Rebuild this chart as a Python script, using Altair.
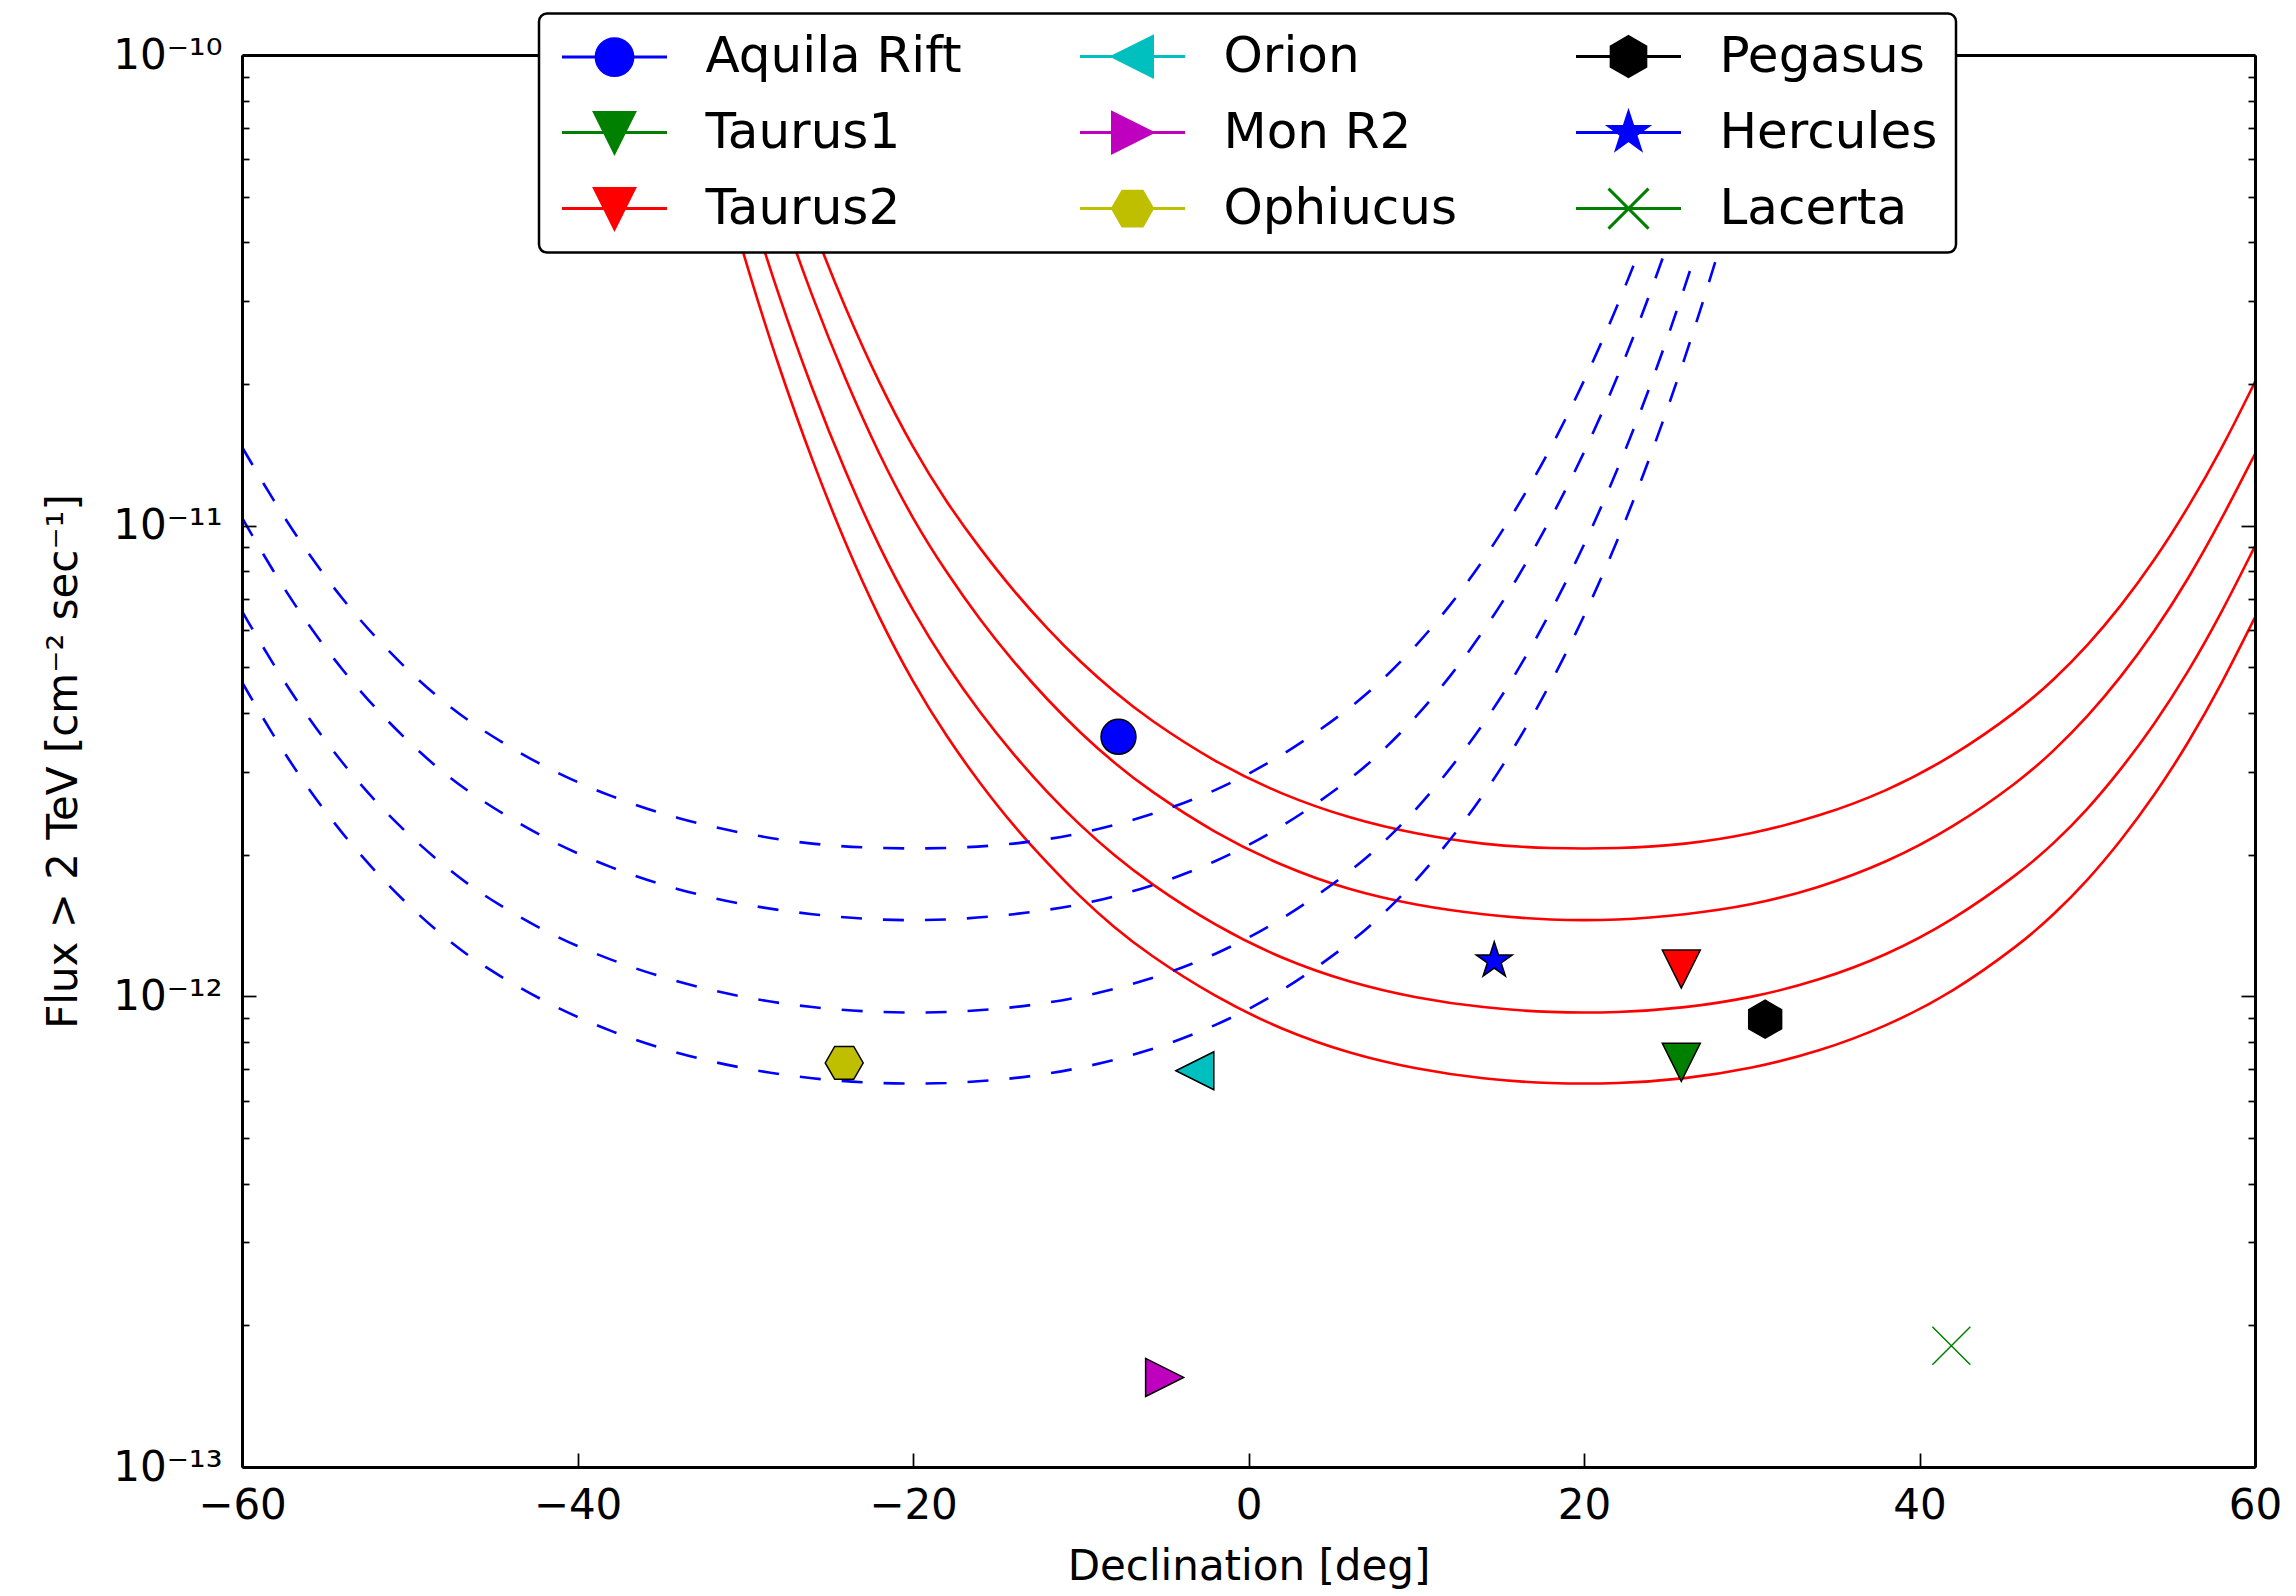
import json
import altair as alt
import pandas as pd

FONT = "DejaVu Sans"

# ---------------- source markers ----------------
src_names = ["Aquila Rift", "Taurus1", "Taurus2", "Orion", "Mon R2",
             "Ophiucus", "Pegasus", "Hercules", "Lacerta"]
src_dec = [-7.75, 25.8, 25.8, -3.2, -5.0, -24.1, 30.8, 14.65, 41.9]
src_flux = [3.56e-12, 7.24e-13, 1.143e-12, 6.95e-13, 1.55e-13,
            7.22e-13, 8.94e-13, 1.19e-12, 1.81e-13]

# legend entries (filled column by column, 3 per column)
legend_order = ["Aquila Rift", "Taurus1", "Taurus2",
                "Orion", "Mon R2", "Ophiucus",
                "Pegasus", "Hercules", "Lacerta"]
series_colors = ["#0000ff", "#008000", "#ff0000",
                 "#00bfbf", "#bf00bf", "#bfbf00",
                 "#000000", "#0000ff", "#008000"]
edge_colors = ["#000000", "#000000", "#000000",
               "#000000", "#000000", "#000000",
               "#000000", "#000000", "#008000"]
marker_paths = [
    "M0.92,0A0.92,0.92 0 1,1 -0.92,0A0.92,0.92 0 1,1 0.92,0Z",          # circle
    "M-1,-1L1,-1L0,1Z",                                                 # triangle down
    "M-1,-1L1,-1L0,1Z",                                                 # triangle down
    "M-1,0L1,-1L1,1Z",                                                  # triangle left
    "M1,0L-1,-1L-1,1Z",                                                 # triangle right
    "M1,0L0.5,0.866L-0.5,0.866L-1,0L-0.5,-0.866L0.5,-0.866Z",           # hexagon (flat top)
    "M0,-1L0.866,-0.5L0.866,0.5L0,1L-0.866,0.5L-0.866,-0.5Z",           # hexagon (pointy top)
    "M0,-1L0.225,-0.309L0.951,-0.309L0.363,0.118L0.588,0.809L0,0.382"
    "L-0.588,0.809L-0.363,0.118L-0.951,-0.309L-0.225,-0.309Z",          # star
    "M-1,-1L1,1M-1,1L1,-1",                                             # x
]
LEGEND_LINE = "M-2.625,0H2.625"
legend_paths = [LEGEND_LINE + p for p in marker_paths]

# ---------------- sensitivity curves ----------------
red_dec = [-34, -30, -28, -26, -24, -22, -20, -18, -16, -14, -12, -10, -8, -6, -2, 2,
           6, 10, 14, 18, 22, 26, 30, 34, 38, 42, 46, 48, 50, 52, 54, 56, 58, 60]
red_flux = [
    [3.65e-10, 1.14e-10, 6.85e-11, 4.32e-11, 2.87e-11, 2.00e-11, 1.46e-11, 1.12e-11,
     8.93e-12, 7.26e-12, 6.04e-12, 5.12e-12, 4.43e-12, 3.89e-12, 3.14e-12, 2.68e-12,
     2.39e-12, 2.21e-12, 2.10e-12, 2.06e-12, 2.06e-12, 2.10e-12, 2.21e-12, 2.41e-12,
     2.72e-12, 3.23e-12, 4.07e-12, 4.70e-12, 5.55e-12, 6.74e-12, 8.42e-12, 1.09e-11,
     1.45e-11, 2.02e-11],
    [2.58e-10, 8.07e-11, 4.84e-11, 3.05e-11, 2.03e-11, 1.41e-11, 1.03e-11, 7.94e-12,
     6.30e-12, 5.13e-12, 4.27e-12, 3.62e-12, 3.13e-12, 2.75e-12, 2.22e-12, 1.89e-12,
     1.68e-12, 1.56e-12, 1.49e-12, 1.45e-12, 1.45e-12, 1.49e-12, 1.56e-12, 1.70e-12,
     1.92e-12, 2.28e-12, 2.87e-12, 3.32e-12, 3.92e-12, 4.76e-12, 5.95e-12, 7.67e-12,
     1.03e-11, 1.42e-11],
    [1.64e-10, 5.12e-11, 3.07e-11, 1.94e-11, 1.29e-11, 8.97e-12, 6.57e-12, 5.04e-12,
     4.00e-12, 3.26e-12, 2.71e-12, 2.30e-12, 1.99e-12, 1.75e-12, 1.41e-12, 1.20e-12,
     1.07e-12, 9.91e-13, 9.45e-13, 9.23e-13, 9.23e-13, 9.44e-13, 9.93e-13, 1.08e-12,
     1.22e-12, 1.45e-12, 1.83e-12, 2.11e-12, 2.49e-12, 3.03e-12, 3.78e-12, 4.87e-12,
     6.52e-12, 9.05e-12],
    [1.16e-10, 3.62e-11, 2.17e-11, 1.37e-11, 9.09e-12, 6.33e-12, 4.64e-12, 3.56e-12,
     2.83e-12, 2.30e-12, 1.92e-12, 1.62e-12, 1.40e-12, 1.23e-12, 9.96e-13, 8.48e-13,
     7.56e-13, 7.00e-13, 6.67e-13, 6.52e-13, 6.52e-13, 6.67e-13, 7.02e-13, 7.63e-13,
     8.62e-13, 1.02e-12, 1.29e-12, 1.49e-12, 1.76e-12, 2.14e-12, 2.67e-12, 3.44e-12,
     4.60e-12, 6.39e-12],
]
blue_dec = [-60, -58, -56, -54, -52, -50, -48, -46, -42, -38, -34, -30, -26, -22, -18,
            -14, -10, -6, -2, 2, 6, 8, 10, 12, 14, 16, 18, 20, 22, 24, 26, 28, 30]
blue_flux = [
    [1.47e-11, 1.11e-11, 8.66e-12, 6.96e-12, 5.76e-12, 4.88e-12, 4.22e-12, 3.73e-12,
     3.06e-12, 2.65e-12, 2.38e-12, 2.21e-12, 2.10e-12, 2.06e-12, 2.06e-12, 2.10e-12,
     2.21e-12, 2.41e-12, 2.72e-12, 3.23e-12, 4.07e-12, 4.70e-12, 5.55e-12, 6.74e-12,
     8.42e-12, 1.09e-11, 1.45e-11, 2.02e-11, 2.92e-11, 4.44e-11, 7.10e-11, 1.19e-10,
     2.11e-10],
    [1.04e-11, 7.83e-12, 6.11e-12, 4.92e-12, 4.07e-12, 3.45e-12, 2.98e-12, 2.64e-12,
     2.16e-12, 1.87e-12, 1.68e-12, 1.56e-12, 1.49e-12, 1.45e-12, 1.45e-12, 1.49e-12,
     1.56e-12, 1.70e-12, 1.92e-12, 2.28e-12, 2.87e-12, 3.32e-12, 3.92e-12, 4.76e-12,
     5.95e-12, 7.67e-12, 1.03e-11, 1.42e-11, 2.06e-11, 3.14e-11, 5.02e-11, 8.43e-11,
     1.49e-10],
    [6.58e-12, 4.97e-12, 3.88e-12, 3.12e-12, 2.58e-12, 2.19e-12, 1.90e-12, 1.67e-12,
     1.37e-12, 1.19e-12, 1.07e-12, 9.91e-13, 9.45e-13, 9.23e-13, 9.23e-13, 9.44e-13,
     9.93e-13, 1.08e-12, 1.22e-12, 1.45e-12, 1.83e-12, 2.11e-12, 2.49e-12, 3.03e-12,
     3.78e-12, 4.87e-12, 6.52e-12, 9.05e-12, 1.31e-11, 1.99e-11, 3.19e-11, 5.36e-11,
     9.46e-11],
    [4.65e-12, 3.51e-12, 2.74e-12, 2.21e-12, 1.83e-12, 1.55e-12, 1.34e-12, 1.18e-12,
     9.71e-13, 8.39e-13, 7.54e-13, 7.00e-13, 6.67e-13, 6.52e-13, 6.52e-13, 6.67e-13,
     7.02e-13, 7.63e-13, 8.62e-13, 1.02e-12, 1.29e-12, 1.49e-12, 1.76e-12, 2.14e-12,
     2.67e-12, 3.44e-12, 4.60e-12, 6.39e-12, 9.26e-12, 1.41e-11, 2.25e-11, 3.78e-11,
     6.69e-11],
]

# ---------------- axes ticks / labels ----------------
x_ticks = [-60, -40, -20, 0, 20, 40, 60]
y_major = [1e-13, 1e-12, 1e-11, 1e-10]
y_major_labels = ["10\u207b\u00b9\u00b3", "10\u207b\u00b9\u00b2",
                  "10\u207b\u00b9\u00b9", "10\u207b\u00b9\u2070"]
y_minor = [m * e for e in (1e-13, 1e-12, 1e-11) for m in (2, 3, 4, 5, 6, 7, 8, 9)]
x_title = "Declination [deg]"
y_title = "Flux > 2 TeV [cm\u207b\u00b2 sec\u207b\u00b9]"

src_df = pd.DataFrame({"name": src_names, "dec": src_dec, "flux": src_flux})
red_df = pd.DataFrame([{"curve": f"r{i}", "dec": d, "flux": f}
                       for i, fl in enumerate(red_flux) for d, f in zip(red_dec, fl)])
blue_df = pd.DataFrame([{"curve": f"b{i}", "dec": d, "flux": f}
                        for i, fl in enumerate(blue_flux) for d, f in zip(blue_dec, fl)])

W, H = 2013, 1412
PAD = {"left": 242, "top": 55, "right": 41, "bottom": 129}


def build(neg_ticks=True, legend_stroke=True):
    xs = alt.Scale(domain=[-60, 60], nice=False, zero=False)
    ys = alt.Scale(type="log", domain=[1e-13, 1e-10], nice=False)

    def tsz(n):
        return {"expr": str(-n)} if neg_ticks else n

    common_tick = dict(labels=False, ticks=True, tickColor="black", tickWidth=1.75,
                       title=None, grid=False, zindex=1)
    label_expr = json.dumps(y_major_labels, ensure_ascii=False) + "[round(log(datum.value)/LN10)+13]"

    x_label_axis = alt.Axis(orient="bottom", values=x_ticks, ticks=False, domain=True,
                            domainColor="black", domainWidth=3, labelFont=FONT,
                            labelFontSize=42, labelColor="black", labelPadding=18,
                            labelFlush=False, labelOverlap=False, grid=False,
                            title=x_title, titleFont=FONT, titleFontSize=42,
                            titleFontWeight="normal", titleColor="black",
                            titleY=112, titleBaseline="alphabetic", zindex=1)
    y_label_axis = alt.Axis(orient="left", values=y_major, ticks=False, domain=True,
                            domainColor="black", domainWidth=3, labelFont=FONT,
                            labelFontSize=42, labelColor="black", labelPadding=20,
                            labelExpr=label_expr, labelOverlap=False, grid=False,
                            title=y_title, titleFont=FONT, titleFontSize=42,
                            titleFontWeight="normal", titleColor="black",
                            titleAngle=270, titleX=-166, titleY=H / 2,
                            titleAlign="center", titleBaseline="alphabetic", zindex=1)
    x_top_axis = alt.Axis(orient="top", values=x_ticks, tickSize=tsz(14), domain=True,
                          domainColor="black", domainWidth=3, **common_tick)
    y_right_axis = alt.Axis(orient="right", values=y_major, tickSize=tsz(14), domain=True,
                            domainColor="black", domainWidth=3, **common_tick)
    x_bottom_ticks = alt.Axis(orient="bottom", values=x_ticks, tickSize=tsz(14),
                              domain=False, **common_tick)
    y_left_ticks = alt.Axis(orient="left", values=y_major, tickSize=tsz(14),
                            domain=False, **common_tick)
    y_left_minor = alt.Axis(orient="left", values=y_minor, tickSize=tsz(7),
                            domain=False, **common_tick)
    y_right_minor = alt.Axis(orient="right", values=y_minor, tickSize=tsz(7),
                             domain=False, **common_tick)

    red = alt.Chart(red_df).mark_line(
        color="#ff0000", strokeWidth=2.6, clip=True, interpolate="basis"
    ).encode(
        x=alt.X("dec:Q", scale=xs, axis=x_label_axis),
        y=alt.Y("flux:Q", scale=ys, axis=y_label_axis),
        detail="curve:N",
    )
    blue = alt.Chart(blue_df).mark_line(
        color="#0000ff", strokeWidth=2.6, strokeDash=[21, 21], clip=True,
        interpolate="basis"
    ).encode(
        x=alt.X("dec:Q", scale=xs, axis=x_top_axis),
        y=alt.Y("flux:Q", scale=ys, axis=y_right_axis),
        detail="curve:N",
    )
    pts = alt.Chart(src_df).mark_point(size=1444, strokeWidth=1.5, opacity=1).encode(
        x=alt.X("dec:Q", scale=xs, axis=x_bottom_ticks),
        y=alt.Y("flux:Q", scale=ys, axis=y_left_ticks),
        fill=alt.Fill("name:N", scale=alt.Scale(domain=legend_order, range=series_colors), legend=None),
        stroke=alt.Stroke("name:N", scale=alt.Scale(domain=legend_order, range=edge_colors), legend=None),
        shape=alt.Shape("name:N", scale=alt.Scale(domain=legend_order, range=marker_paths), legend=None),
    )
    leg = alt.Legend(title=None, orient="none", legendX=297, legendY=-41.4, columns=3,
                     columnPadding=112, rowPadding=24, padding=18,
                     fillColor="white", strokeColor="black", cornerRadius=8,
                     labelFont=FONT, labelFontSize=50, labelColor="black", labelLimit=700,
                     labelOffset=66, symbolOffset=32.5, symbolSize=1600,
                     symbolStrokeWidth=3, symbolOpacity=1, zindex=2)
    legend_layer = alt.Chart(src_df).mark_point(size=1444, strokeWidth=3, opacity=0).encode(
        x=alt.X("dec:Q", scale=xs, axis=None),
        y=alt.Y("flux:Q", scale=ys, axis=y_left_minor),
        fill=alt.Fill("name:N", scale=alt.Scale(domain=legend_order, range=series_colors), legend=leg),
        stroke=alt.Stroke("name:N", scale=alt.Scale(domain=legend_order, range=series_colors), legend=leg),
        shape=alt.Shape("name:N", scale=alt.Scale(domain=legend_order, range=legend_paths), legend=leg),
    )
    extra = alt.Chart(src_df).mark_point(opacity=0).encode(
        x=alt.X("dec:Q", scale=xs, axis=None),
        y=alt.Y("flux:Q", scale=ys, axis=y_right_minor),
    )
    chart = alt.layer(red, blue, pts, legend_layer, extra).resolve_scale(
        fill="independent", stroke="independent", shape="independent"
    ).resolve_axis(
        x="independent", y="independent"
    ).properties(
        width=W, height=H, padding=PAD, autosize=alt.AutoSizeParams(type="none"),
        background="white",
    ).configure_view(stroke=None)
    if legend_stroke:
        chart = chart.configure_legend(strokeWidth=2.5)
    return chart


chart = None
for opts in ((True, True), (True, False), (False, False)):
    try:
        chart = build(*opts)
        chart.save("out.html", embed_options={"renderer": "svg", "actions": False})
        break
    except Exception:
        chart = None
